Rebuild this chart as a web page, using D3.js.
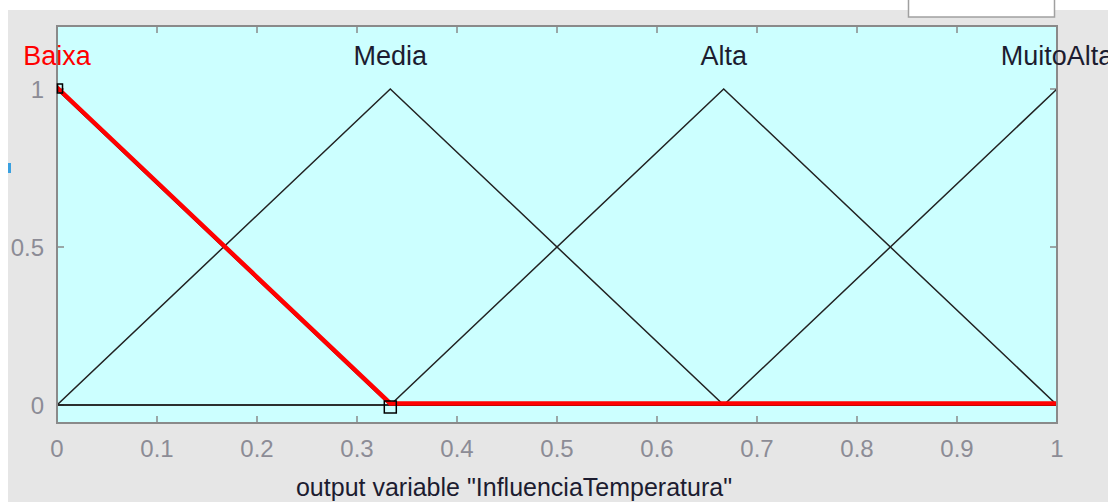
<!DOCTYPE html>
<html>
<head>
<meta charset="utf-8">
<script src="https://cdn.jsdelivr.net/npm/d3@7"></script>
<style>
  body { margin: 0; background: #fff; }
  svg { display: block; font-family: "Liberation Sans", Arial, sans-serif; }
</style>
</head>
<body>
<svg id="chart" width="1108" height="502"></svg>
<script>
// membership functions (trimf params) for output variable
const mfNames = ["Baixa", "Media", "Alta", "MuitoAlta"];
const mfParams = [
  [-0.3333, 0, 0.3333],
  [0, 0.3333, 0.6667],
  [0.3333, 0.6667, 1],
  [0.6667, 1, 1.3333],
];
const selectedMf = 0; // highlighted in red
const xTicks = [0, 0.1, 0.2, 0.3, 0.4, 0.5, 0.6, 0.7, 0.8, 0.9, 1];
const yTicks = [0, 0.5, 1];
const axisLabel = 'output variable "InfluenciaTemperatura"';

const svg = d3.select("#chart");

// figure background
svg.append("rect").attr("x", 8).attr("y", 10).attr("width", 1100).attr("height", 492).attr("fill", "#e6e6e6");
// white box at top right (cut off control)
svg.append("rect").attr("x", 908.5).attr("y", -2).attr("width", 146).attr("height", 19)
  .attr("fill", "#fff").attr("stroke", "#a0a0a0").attr("stroke-width", 1.5);

// plot box
const box = { left: 57, right: 1057, top: 26, bottom: 423 };
const x = d3.scaleLinear().domain([0, 1]).range([box.left, box.right]);
const y = d3.scaleLinear().domain([0, 1]).range([405, 89]);

svg.append("rect")
  .attr("x", box.left).attr("y", box.top)
  .attr("width", box.right - box.left).attr("height", box.bottom - box.top)
  .attr("fill", "#ccffff");

// clip to the [0,1] range
svg.append("defs").append("clipPath").attr("id", "clip")
  .append("rect").attr("x", box.left).attr("y", box.top)
  .attr("width", box.right - box.left).attr("height", box.bottom - box.top);

const tickLen = 7;
const grid = svg.append("g").attr("stroke", "#8a8a8a").attr("stroke-width", 1.5);
xTicks.forEach((t) => {
  grid.append("line").attr("x1", x(t)).attr("x2", x(t)).attr("y1", box.bottom).attr("y2", box.bottom - tickLen);
  grid.append("line").attr("x1", x(t)).attr("x2", x(t)).attr("y1", box.top).attr("y2", box.top + tickLen);
});
yTicks.forEach((t) => {
  grid.append("line").attr("x1", box.left).attr("x2", box.left + tickLen).attr("y1", y(t)).attr("y2", y(t));
  grid.append("line").attr("x1", box.right).attr("x2", box.right - tickLen).attr("y1", y(t)).attr("y2", y(t));
});

// membership curves
const line = d3.line().x((d) => x(d[0])).y((d) => y(d[1]));
const curves = svg.append("g").attr("clip-path", "url(#clip)");
const mfPoints = (p) => [[-0.5, 0], [p[0], 0], [p[1], 1], [p[2], 0], [1.5, 0]];

mfParams.forEach((p, i) => {
  if (i === selectedMf) return;
  curves.append("path").attr("d", line(mfPoints(p)))
    .attr("fill", "none").attr("stroke", "#222").attr("stroke-width", 1.5);
});
// black baseline of the selected one, then red on top
curves.append("path").attr("d", line(mfPoints(mfParams[selectedMf])))
  .attr("fill", "none").attr("stroke", "#111").attr("stroke-width", 2);
curves.append("path").attr("d", line(mfPoints(mfParams[selectedMf])))
  .attr("transform", "translate(0,-1.5)")
  .attr("fill", "none").attr("stroke", "#ff0000").attr("stroke-width", 4.5);

// axis frame
svg.append("rect")
  .attr("x", box.left).attr("y", box.top)
  .attr("width", box.right - box.left).attr("height", box.bottom - box.top)
  .attr("fill", "none").attr("stroke", "#8a8a8a").attr("stroke-width", 2);

// handle squares on the selected mf
const sel = mfParams[selectedMf];
svg.append("rect").attr("x", x(0) + 0.5).attr("y", y(1) - 5).attr("width", 5).attr("height", 9)
  .attr("fill", "none").attr("stroke", "#000").attr("stroke-width", 1.5);
svg.append("rect").attr("x", x(sel[2]) - 6).attr("y", y(0) - 4).attr("width", 12).attr("height", 12)
  .attr("fill", "none").attr("stroke", "#000").attr("stroke-width", 1.5);

// mf names
svg.append("g").selectAll("text").data(mfNames).join("text")
  .attr("x", (d, i) => x(mfParams[i][1]))
  .attr("y", 65)
  .attr("text-anchor", "middle")
  .attr("font-size", 27)
  .attr("fill", (d, i) => (i === selectedMf ? "#ff0000" : "#1c1c30"))
  .text((d) => d);

// tick labels
svg.append("g").selectAll("text").data(xTicks).join("text")
  .attr("x", (d) => x(d)).attr("y", 457)
  .attr("text-anchor", "middle").attr("font-size", 24).attr("fill", "#8c8c96")
  .text((d) => d);
svg.append("g").selectAll("text").data(yTicks).join("text")
  .attr("x", 44).attr("y", (d) => y(d) + 9)
  .attr("text-anchor", "end").attr("font-size", 24).attr("fill", "#8c8c96")
  .text((d) => d);

// axis label
svg.append("text").attr("x", 514).attr("y", 496)
  .attr("text-anchor", "middle").attr("font-size", 25).attr("fill", "#1c1c30")
  .text(axisLabel);

// small blue remnant at the left edge
svg.append("rect").attr("x", 8).attr("y", 163).attr("width", 3).attr("height", 10).attr("fill", "#3aa0e0");
</script>
</body>
</html>
